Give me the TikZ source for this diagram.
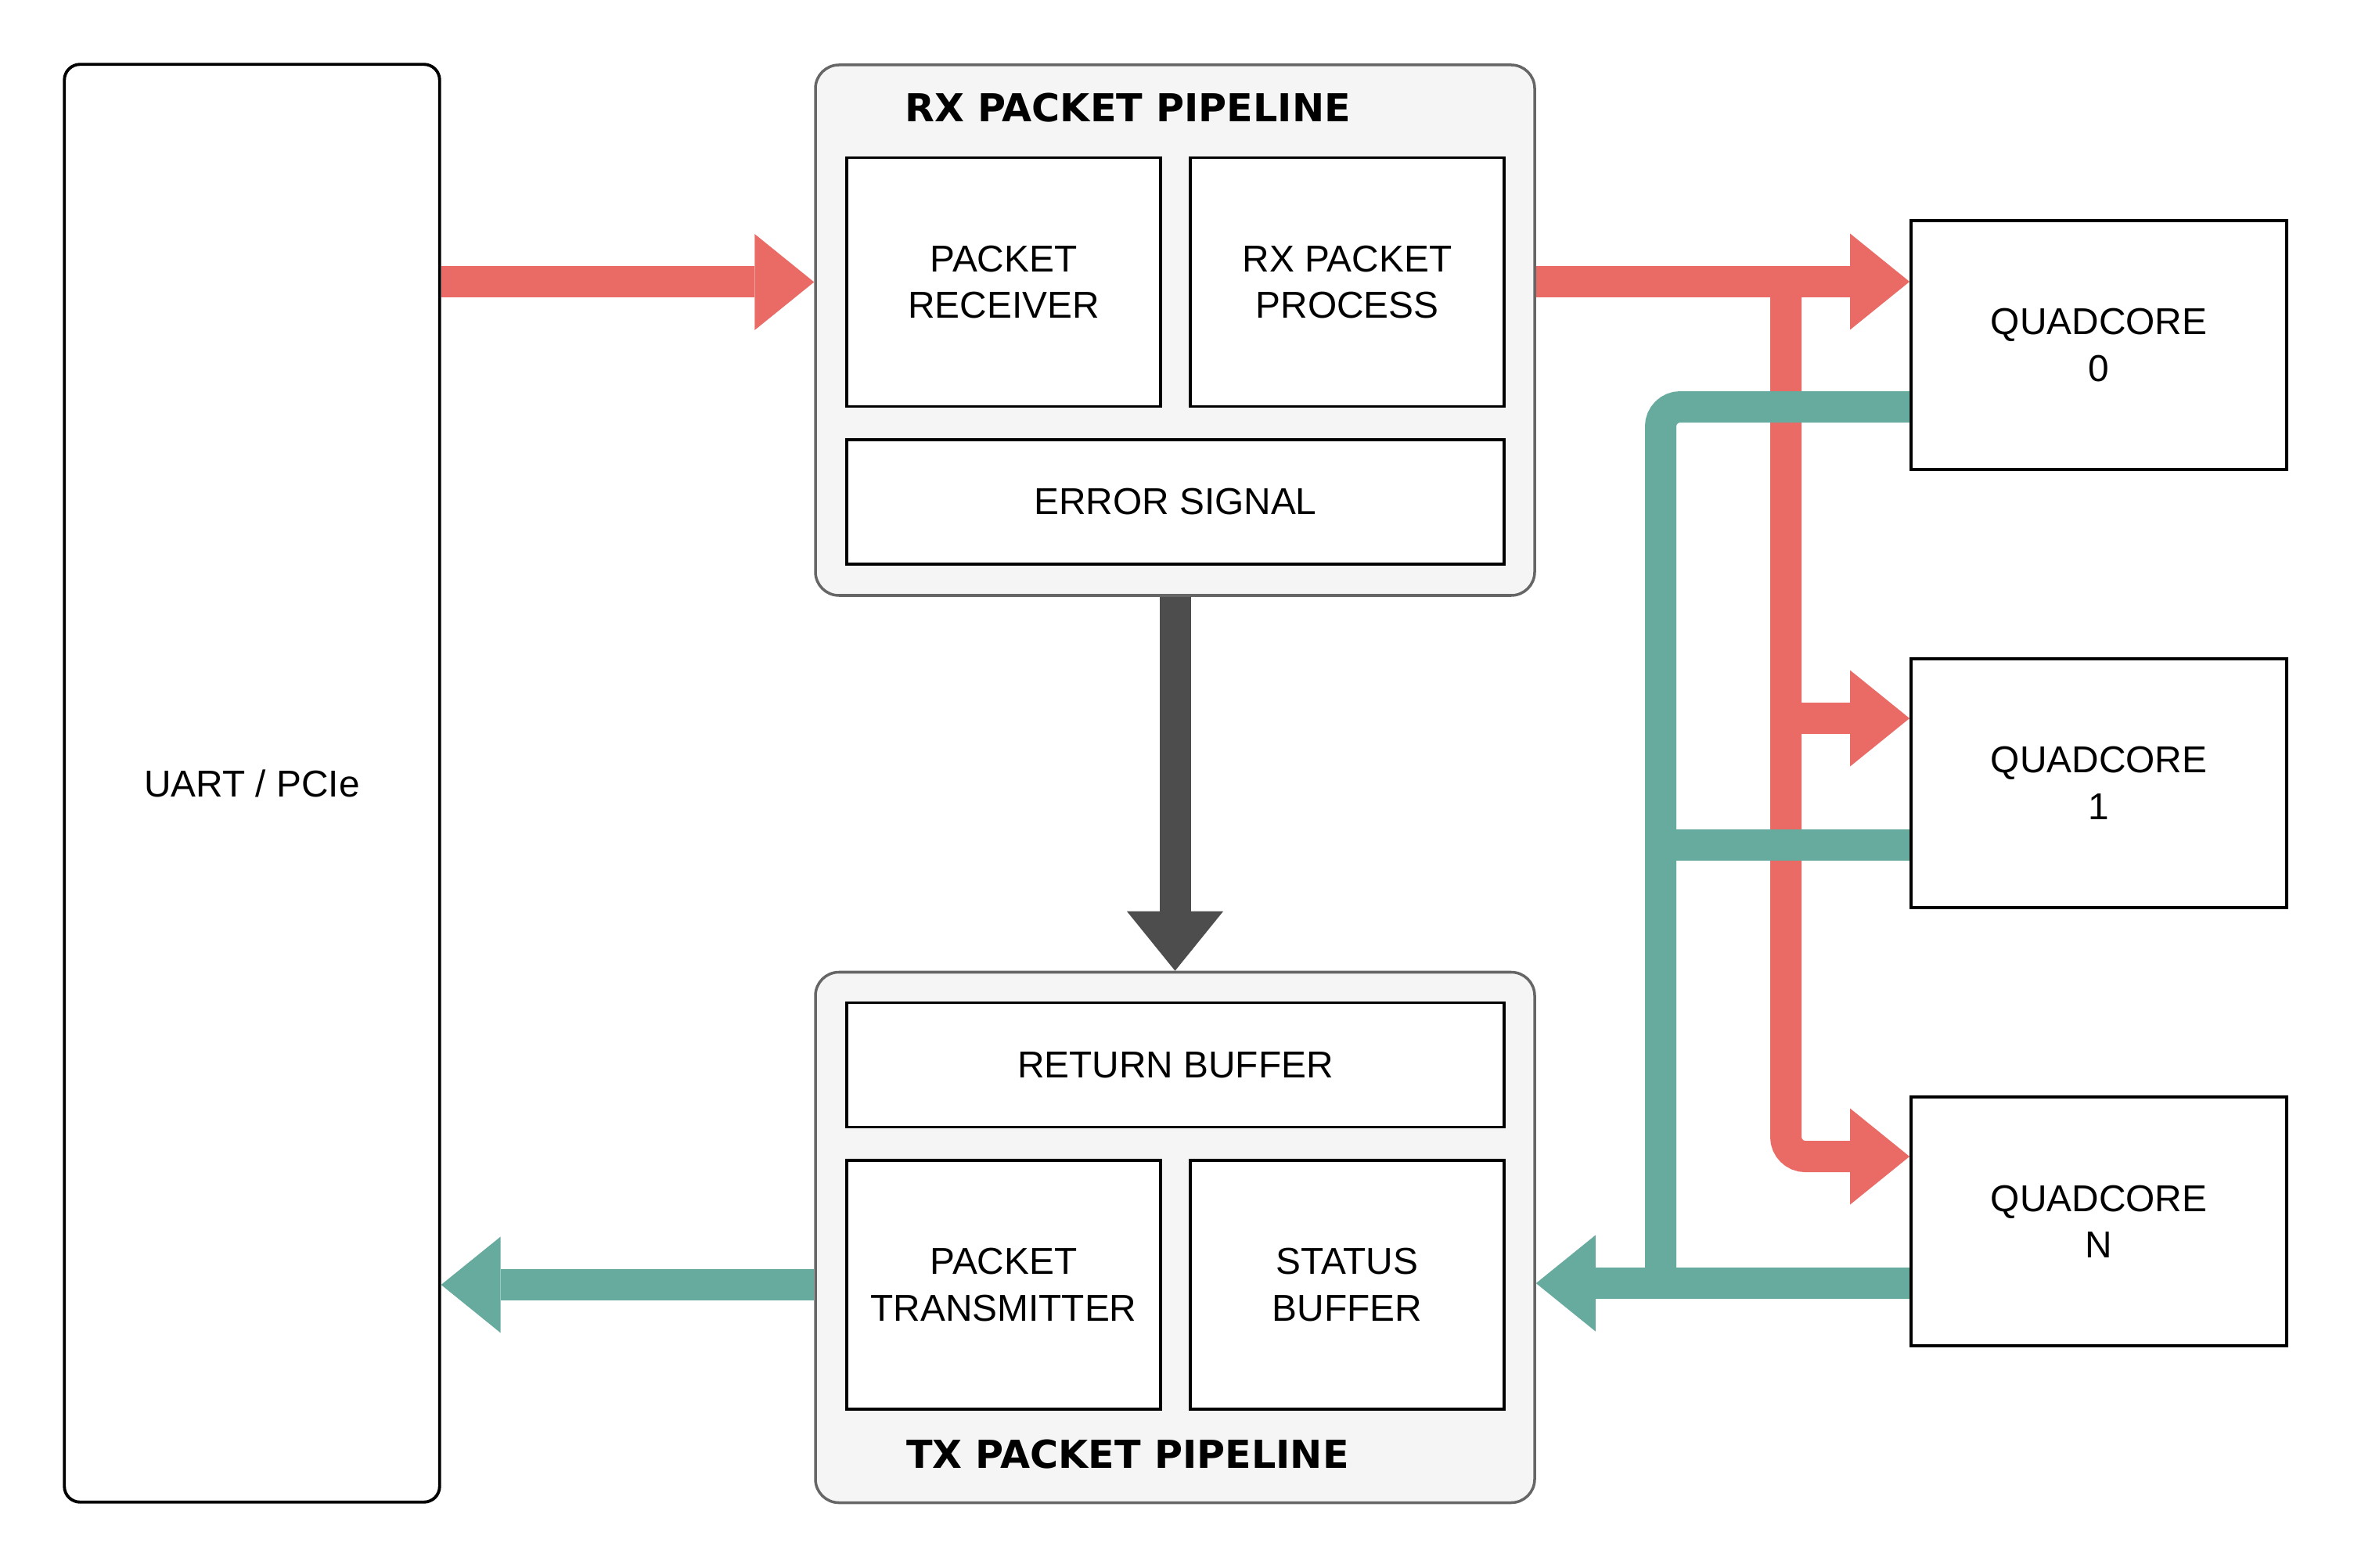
\documentclass[tikz,border=0pt]{standalone}
\usepackage{fontspec}
\setmainfont{Liberation Sans}
\newfontfamily\titlefont{DejaVu Sans}
\usetikzlibrary{arrows.meta,positioning}
\definecolor{rxred}{HTML}{EA6B66}
\definecolor{txteal}{HTML}{67AB9F}
\definecolor{errgray}{HTML}{4D4D4D}
\definecolor{pipefill}{HTML}{F5F5F5}
\definecolor{pipeedge}{HTML}{666666}
\tikzset{%
	block/.style     = {draw, line width=1.1pt, fill=white, rectangle, align=center, inner sep=0pt, font=\fontsize{13.6}{16.9}\selectfont},
	host/.style      = {block, rounded corners=0.2cm, minimum width=4.795cm, minimum height=18.375cm},
	pipe/.style      = {draw=pipeedge, fill=pipefill, line width=1pt, rounded corners=0.3cm, minimum width=9.19cm, minimum height=6.78cm},
	halfblock/.style = {block, minimum width=4.01cm, minimum height=3.18cm},
	wideblock/.style = {block, minimum width=8.40cm, minimum height=1.59cm},
	core/.style      = {block, minimum width=4.80cm, minimum height=3.18cm},
	title/.style     = {font=\titlefont\bfseries\fontsize{14}{16}\selectfont},
	wire/.style      = {line width=0.4cm}, % bus without tip
	bus/.style       = {wire, -{Triangle[length=0.76cm, width=1.23cm, line width=0pt]}},
}
\begin{document}
\begin{tikzpicture}[node distance = 4.39cm]
	\useasboundingbox (0,0) rectangle (30.08,-20.04);
	\node[host] (uart) at (3.22,-10.01) {UART / PCIe};
	\node[pipe] (rx) at (15.015,-4.22) {};
	\node[pipe] (tx) at (15.015,-15.815) {};
	\node[title] (rxtitle) at (14.41,-1.38) {RX PACKET PIPELINE};
	\node[title] (txtitle) at (14.41,-18.59) {TX PACKET PIPELINE};
	
	\node[halfblock] (prcv) at (12.825,-3.605) {PACKET\\RECEIVER};
	\node[halfblock,right of=prcv] (rxproc) {RX PACKET\\PROCESS};
	\node[wideblock] (err) at (15.02,-6.415) {ERROR SIGNAL};
	\node[wideblock] (retbuf) at (15.02,-13.61) {RETURN BUFFER};
	\node[halfblock] (ptx) at (12.825,-16.42) {PACKET\\TRANSMITTER};
	\node[halfblock,right of=ptx] (stbuf) {STATUS\\BUFFER};
	
	\node[core] (qc0) at (26.82,-4.41) {QUADCORE\\0};
	\node[core,below of=qc0,node distance=5.6cm] (qc1) {QUADCORE\\1};
	\node[core,below of=qc1,node distance=5.6cm] (qcN) {QUADCORE\\N};
	
	\coordinate (qc1in) at ([yshift=-0.78cm]qc1.north west);
	\coordinate (qcNin) at ([yshift=-0.78cm]qcN.north west);
	\coordinate (qc0out) at ([yshift=-2.40cm]qc0.north west);
	\coordinate (qc1out) at ([yshift=-2.40cm]qc1.north west);
	\coordinate (qcNout) at ([yshift=-2.40cm]qcN.north west);
	\coordinate (redbus) at (22.82,-3.60);
	\coordinate (tealbus) at (21.22,-16.42);
	
	\draw[bus,rxred] (uart.east |- prcv) -- (rx.west |- prcv);
	\draw[bus,rxred] (rx.east |- redbus) -- (qc0.west |- redbus);
	\draw[bus,rxred,rounded corners=0.25cm] (redbus) |- (qcNin);
	\draw[bus,rxred] (redbus |- qc1in) -- (qc1in);
	
	\draw[wire,txteal,rounded corners=0.25cm] (qc0out) -| (tealbus);
	\draw[wire,txteal] (qc1out) -- (tealbus |- qc1out);
	\draw[bus,txteal] (qcNout) -- (tx.east |- qcNout);
	\draw[bus,txteal] (tx.west |- ptx) -- (uart.east |- ptx);
	
	\draw[bus,errgray] (rx.south) -- (tx.north);
\end{tikzpicture}
\end{document}
